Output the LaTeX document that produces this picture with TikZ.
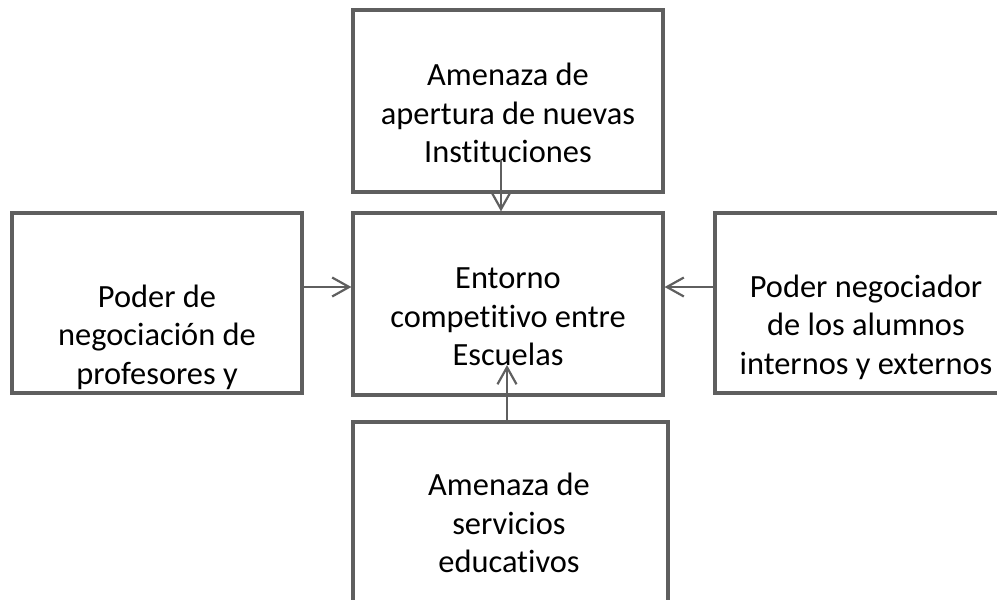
\documentclass[tikz,border=0pt]{standalone}
\usepackage{fontspec}
\setmainfont{Carlito}[Ligatures=NoCommon]
\usepackage{tikz}
\usetikzlibrary{positioning,calc,arrows.meta}

\definecolor{marco}{RGB}{95,95,95}

\tikzset{
  caja/.style={draw=marco, line width=1.6pt, rectangle, inner sep=0pt},
  texto/.style={align=center, inner sep=0pt,
    font=\fontsize{16.2}{19.3}\selectfont},
  flecha/.style={draw=marco, line width=1.1pt,
    -{Straight Barb[length=8.5pt,width=9.5pt,line width=1.1pt]}},
}

\begin{document}
\begin{tikzpicture}[x=0.5pt,y=-0.5pt]
  \useasboundingbox (0,0) rectangle (997,600);
  \clip (0,0) rectangle (997,600);

  % boxes
  \node[caja, minimum width=155pt, minimum height=91pt] (nuevas) at (508,101) {};
  \node[caja, minimum width=155pt, minimum height=91pt] (entorno) at (508,304) {};
  \node[caja, minimum width=145pt, minimum height=90pt] (profesores) at (157,303) {};
  \node[caja, minimum width=150pt, minimum height=90pt] (alumnos) at (865,303) {};
  \node[caja, minimum width=157.5pt, minimum height=100pt] (servicios) at (510.5,522) {};

  % texts of the boxes
  \node[texto] (t-nuevas) at (508,113) {Amenaza de\\apertura de nuevas\\Instituciones};
  \node[texto] (t-entorno) at (508,317) {Entorno\\competitivo entre\\Escuelas};
  \node[texto] (t-profesores) at (157,337) {Poder de\\negociación de\\profesores y};
  \node[texto] (t-alumnos) at (866,327) {Poder negociador\\de los alumnos\\internos y externos};
  \node[texto] (t-servicios) at (509,523) {Amenaza de\\servicios\\educativos};

  % arrows
  \coordinate (arriba) at (501,160);
  \coordinate (abajo) at (507,365);
  \coordinate (medio) at (0,287);
  \draw[flecha] (arriba) -- (arriba |- entorno.north);
  \draw[flecha] (profesores.east |- medio) -- (entorno.west |- medio);
  \draw[flecha] (alumnos.west |- medio) -- (entorno.east |- medio);
  \draw[flecha] (abajo |- servicios.north) -- (abajo);
\end{tikzpicture}
\end{document}
